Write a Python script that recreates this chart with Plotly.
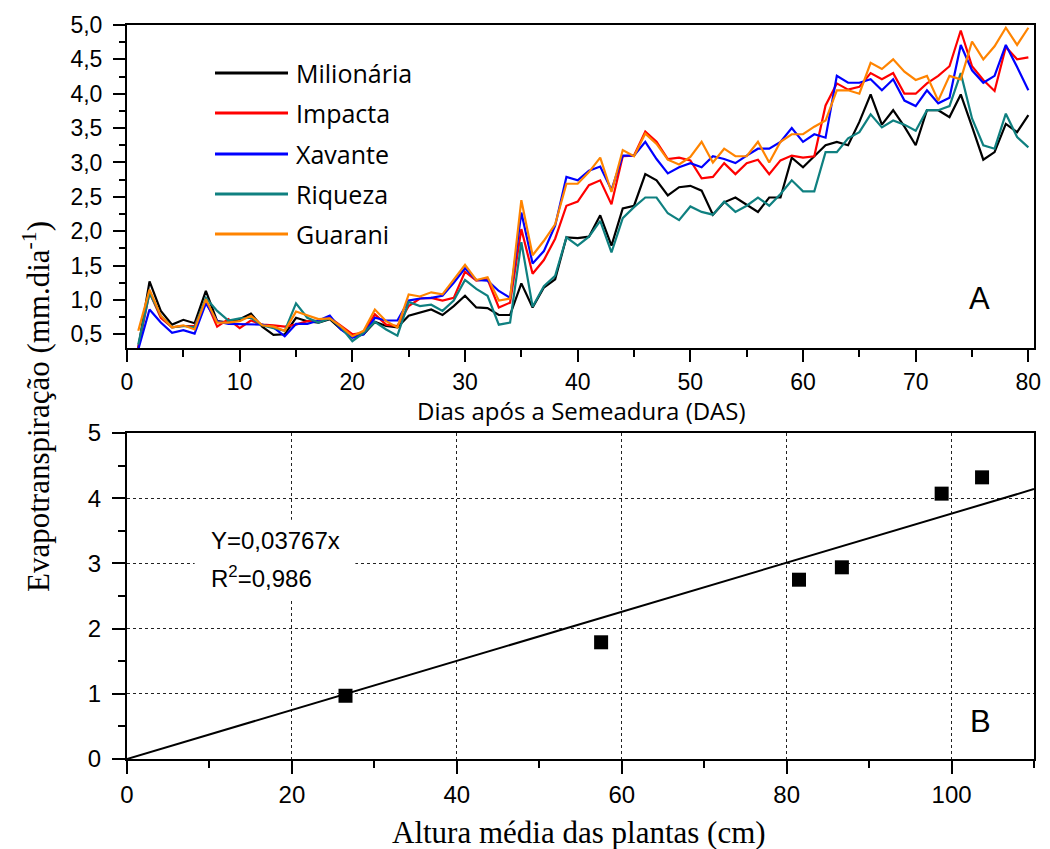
import plotly.graph_objects as go

# ---------------- data: panel A ----------------
days = list(range(1, 81))

milionaria = [0.30, 1.27, 0.84, 0.64, 0.71, 0.66, 1.13, 0.69, 0.67, 0.72,
              0.80, 0.61, 0.49, 0.50, 0.74, 0.69, 0.67, 0.72, 0.57, 0.47,
              0.50, 0.68, 0.62, 0.60, 0.77, 0.81, 0.86, 0.78, 0.91, 1.06,
              0.89, 0.88, 0.78, 0.78, 1.24, 0.89, 1.18, 1.30, 1.91, 1.90,
              1.92, 2.23, 1.79, 2.33, 2.37, 2.83, 2.74, 2.52, 2.64, 2.66,
              2.59, 2.24, 2.42, 2.49, 2.38, 2.28, 2.49, 2.49, 3.07, 2.93,
              3.09, 3.25, 3.30, 3.25, 3.59, 3.99, 3.55, 3.76, 3.52, 3.25,
              3.76, 3.76, 3.66, 3.99, 3.52, 3.04, 3.15, 3.56, 3.44, 3.69]

impacta = [0.30, 1.11, 0.74, 0.60, 0.62, 0.62, 0.99, 0.61, 0.72, 0.59,
           0.70, 0.64, 0.63, 0.61, 0.64, 0.69, 0.70, 0.74, 0.62, 0.50,
           0.52, 0.79, 0.64, 0.62, 0.91, 1.02, 1.03, 0.99, 1.03, 1.41,
           1.28, 1.30, 0.89, 0.96, 2.03, 1.38, 1.58, 1.89, 2.37, 2.43,
           2.67, 2.74, 2.39, 3.09, 3.10, 3.45, 3.30, 3.05, 3.07, 3.03,
           2.77, 2.79, 2.99, 2.83, 2.99, 3.04, 2.83, 3.03, 3.10, 3.07,
           3.09, 3.83, 4.15, 4.06, 4.10, 4.30, 4.21, 4.30, 4.00, 4.00,
           4.15, 4.26, 4.40, 4.92, 4.40, 4.20, 4.04, 4.68, 4.50, 4.53]

xavante = [0.28, 0.86, 0.67, 0.52, 0.56, 0.51, 0.95, 0.69, 0.65, 0.65,
           0.65, 0.64, 0.60, 0.47, 0.65, 0.65, 0.70, 0.77, 0.57, 0.45,
           0.50, 0.74, 0.70, 0.70, 0.99, 1.02, 1.03, 1.06, 1.25, 1.46,
           1.29, 1.28, 1.13, 1.03, 2.27, 1.53, 1.71, 2.08, 2.79, 2.74,
           2.88, 2.94, 2.60, 3.10, 3.10, 3.30, 3.05, 2.84, 2.93, 2.99,
           2.93, 3.09, 3.05, 2.99, 3.10, 3.20, 3.20, 3.30, 3.50, 3.30,
           3.41, 3.36, 4.26, 4.16, 4.16, 4.21, 4.05, 4.21, 3.90, 3.82,
           4.05, 3.86, 3.94, 4.71, 4.34, 4.16, 4.26, 4.71, 4.39, 4.05]

riqueza = [0.35, 1.10, 0.77, 0.60, 0.62, 0.60, 1.03, 0.84, 0.70, 0.73,
           0.74, 0.63, 0.59, 0.55, 0.95, 0.74, 0.67, 0.73, 0.60, 0.40,
           0.52, 0.68, 0.57, 0.48, 0.97, 0.91, 0.93, 0.84, 0.99, 1.29,
           1.16, 1.06, 0.64, 0.67, 1.84, 0.90, 1.20, 1.35, 1.91, 1.79,
           1.92, 2.15, 1.69, 2.19, 2.35, 2.49, 2.49, 2.26, 2.16, 2.36,
           2.28, 2.24, 2.43, 2.28, 2.37, 2.49, 2.37, 2.54, 2.74, 2.58,
           2.58, 3.15, 3.15, 3.35, 3.44, 3.70, 3.51, 3.61, 3.55, 3.46,
           3.76, 3.76, 3.82, 4.30, 3.64, 3.25, 3.20, 3.71, 3.37, 3.22]

guarani = [0.55, 1.15, 0.77, 0.60, 0.63, 0.57, 1.01, 0.67, 0.67, 0.69,
           0.77, 0.63, 0.61, 0.55, 0.83, 0.77, 0.72, 0.73, 0.61, 0.47,
           0.55, 0.86, 0.69, 0.60, 1.08, 1.05, 1.11, 1.08, 1.30, 1.51,
           1.29, 1.33, 0.99, 1.02, 2.45, 1.65, 1.86, 2.10, 2.69, 2.69,
           2.86, 3.07, 2.57, 3.18, 3.09, 3.42, 3.27, 3.04, 2.97, 3.08,
           3.30, 3.00, 3.20, 3.09, 3.09, 3.30, 3.00, 3.30, 3.41, 3.41,
           3.52, 3.61, 4.05, 4.05, 4.00, 4.45, 4.36, 4.50, 4.32, 4.20,
           4.26, 3.90, 4.26, 4.21, 4.76, 4.50, 4.69, 4.96, 4.71, 4.96]

series_names = ["Milionária", "Impacta", "Xavante", "Riqueza", "Guarani"]
series_colors = ["#000000", "#FF0000", "#0000FF", "#0F8080", "#FF8400"]

# ---------------- data: panel B ----------------
altura = [26.5, 57.5, 81.5, 86.7, 98.8, 103.7]
et_altura = [0.97, 1.79, 2.75, 2.94, 4.07, 4.32]
fit_x = [0, 110]
fit_y = [0.0, 4.14]
equation_text = "Y=0,03767x"
r2_text = "R<sup>2</sup>=0,986"

# ---------------- layout helpers ----------------
W, H = 1050, 849


def px(x):
    return x / W


def py(y):
    return 1 - y / H


SANS = "Liberation Sans, Arial, sans-serif"
SERIF = "Liberation Serif, Times New Roman, serif"
OPEN = "Open Sans, sans-serif"

fig = go.Figure()

all_series = [milionaria, impacta, xavante, riqueza, guarani]
for name, vals, col in zip(series_names, all_series, series_colors):
    fig.add_trace(go.Scatter(x=days, y=vals, mode="lines", name=name,
                             line=dict(color=col, width=2.2),
                             showlegend=False, xaxis="x", yaxis="y"))

fig.add_trace(go.Scatter(x=fit_x, y=fit_y, mode="lines",
                         line=dict(color="black", width=2),
                         showlegend=False, xaxis="x2", yaxis="y2"))
fig.add_trace(go.Scatter(x=altura, y=et_altura, mode="markers",
                         marker=dict(symbol="square", size=14, color="black"),
                         showlegend=False, xaxis="x2", yaxis="y2"))

axis_common = dict(showline=True, linecolor="black", linewidth=2, mirror=True,
                   ticks="outside", tickcolor="black", tickwidth=2,
                   zeroline=False, automargin=False)

fig.update_layout(
    width=W, height=H, autosize=False,
    margin=dict(l=0, r=0, t=0, b=0, pad=0),
    paper_bgcolor="white", plot_bgcolor="white",
    separators=",.",
    xaxis=dict(domain=[px(127), px(1034)], range=[0, 80.5], anchor="y",
               tickmode="linear", tick0=0, dtick=10, ticklen=12,
               showgrid=False,
               minor=dict(dtick=5, tick0=0, ticklen=7, ticks="outside",
                          tickwidth=2, tickcolor="black", showgrid=False),
               tickfont=dict(family=SANS, size=23, color="black"),
               **axis_common),
    yaxis=dict(domain=[py(348), py(25)], range=[0.3, 5.0], anchor="x",
               tickmode="linear", tick0=0.5, dtick=0.5, tickformat=".1f",
               ticklen=12, showgrid=False, ticklabelstandoff=6,
               minor=dict(dtick=0.25, tick0=0.25, ticklen=6, ticks="outside",
                          tickwidth=2, tickcolor="black", showgrid=False),
               tickfont=dict(family=SANS, size=23, color="black"),
               **axis_common),
    xaxis2=dict(domain=[px(127), px(1034)], range=[0, 110], anchor="y2",
                tickmode="linear", tick0=0, dtick=20, ticklen=13,
                showgrid=True, gridcolor="#222222", gridwidth=1, griddash="dot",
                ticklabelstandoff=0,
                minor=dict(dtick=10, tick0=0, ticklen=7, ticks="outside",
                           tickwidth=2, tickcolor="black", showgrid=False),
                tickfont=dict(family=SANS, size=24, color="black"),
                **axis_common),
    yaxis2=dict(domain=[py(759), py(433)], range=[0, 5], anchor="x2",
                tickmode="linear", tick0=0, dtick=1, ticklen=13,
                showgrid=True, gridcolor="#222222", gridwidth=1, griddash="dot",
                ticklabelstandoff=6,
                minor=dict(dtick=0.5, tick0=0, ticklen=7, ticks="outside",
                           tickwidth=2, tickcolor="black", showgrid=False),
                tickfont=dict(family=SANS, size=24, color="black"),
                **axis_common),
)

shapes = []
annotations = []

# manual legend for panel A
legend_y = [73, 113, 154, 194, 234]
for name, col, ly in zip(series_names, series_colors, legend_y):
    shapes.append(dict(type="line", xref="paper", yref="paper",
                       x0=px(215), x1=px(288), y0=py(ly), y1=py(ly),
                       line=dict(color=col, width=3)))
    annotations.append(dict(text=name, xref="paper", yref="paper",
                            x=px(294), y=py(ly), xanchor="left",
                            yanchor="middle", showarrow=False,
                            font=dict(family=OPEN, size=25, color="black")))

# white box behind the equation (covers the dotted grid)
shapes.append(dict(type="rect", xref="x2", yref="y2", x0=8.2, x1=27.7,
                   y0=2.47, y1=3.67, fillcolor="white",
                   line=dict(width=0), layer="above"))

annotations += [
    dict(text="A", xref="paper", yref="paper", x=px(979), y=py(298),
         xanchor="center", yanchor="middle", showarrow=False,
         font=dict(family=SANS, size=31, color="black")),
    dict(text="B", xref="paper", yref="paper", x=px(980), y=py(721),
         xanchor="center", yanchor="middle", showarrow=False,
         font=dict(family=SANS, size=31, color="black")),
    dict(text=equation_text, xref="paper", yref="paper", x=px(209), y=py(540),
         xanchor="left", yanchor="middle", showarrow=False,
         font=dict(family=SANS, size=24, color="black")),
    dict(text=r2_text, xref="paper", yref="paper", x=px(209), y=py(577),
         xanchor="left", yanchor="middle", showarrow=False,
         font=dict(family=SANS, size=24, color="black")),
    dict(text="Dias após a Semeadura (DAS)", xref="paper", yref="paper",
         x=px(581), y=py(410), xanchor="center", yanchor="middle",
         showarrow=False, font=dict(family=OPEN, size=24, color="black")),
    dict(text="Altura média das plantas (cm)", xref="paper", yref="paper",
         x=px(579), y=py(832), xanchor="center", yanchor="middle",
         showarrow=False, font=dict(family=SERIF, size=31, color="black")),
    dict(text="Evapotranspiração (mm.dia<sup>-1</sup>)", xref="paper",
         yref="paper", x=px(36), y=py(407), xanchor="center",
         yanchor="middle", textangle=-90, showarrow=False,
         font=dict(family=SERIF, size=31, color="black")),
]

fig.update_layout(shapes=shapes, annotations=annotations)

fig.write_html("out.html")
